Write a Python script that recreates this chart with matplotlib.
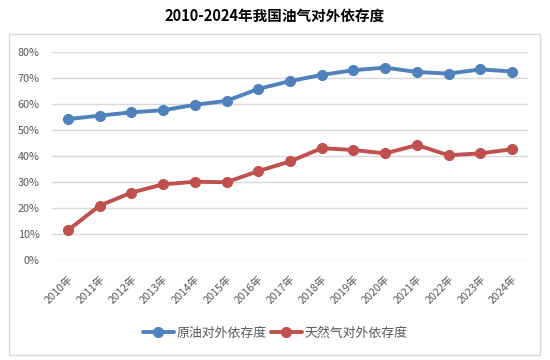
import matplotlib
matplotlib.use('Agg')
import matplotlib.pyplot as plt
from matplotlib.patches import Rectangle
from matplotlib.ticker import PercentFormatter

plt.rcParams['font.family'] = ['Noto Sans CJK SC', 'DejaVu Sans']

years = [f'{y}年' for y in range(2010, 2025)]
oil_dependence = [54.2, 55.5, 56.8, 57.6, 59.7, 61.2, 65.8, 68.8, 71.2, 73.0, 74.0, 72.3, 71.7, 73.3, 72.5]
gas_dependence = [11.4, 20.9, 25.9, 29.1, 30.1, 29.9, 34.2, 37.9, 43.0, 42.3, 41.0, 44.2, 40.3, 41.0, 42.6]
series_names = ['原油对外依存度', '天然气对外依存度']

BLUE = '#4F81BD'
RED = '#C0504D'
GRAY_TEXT = '#595959'

fig = plt.figure(figsize=(5.5, 3.6), dpi=100)
ax = fig.add_axes([52 / 550, 1 - 260 / 360, 476 / 550, 208 / 360])

# outer chart border
fig.patches.append(Rectangle((9 / 550, 1 - 355 / 360), 531 / 550, 321 / 360,
                             transform=fig.transFigure, fill=False,
                             edgecolor='#D9D9D9', linewidth=1))

x = range(len(years))
ax.plot(x, [v / 100 for v in oil_dependence], color=BLUE, lw=2.8,
        marker='o', ms=7, label=series_names[0], solid_capstyle='round')
ax.plot(x, [v / 100 for v in gas_dependence], color=RED, lw=2.8,
        marker='o', ms=7, label=series_names[1], solid_capstyle='round')

ax.set_xlim(-0.5, len(years) - 0.5)
ax.set_ylim(0, 0.8)
ax.set_yticks([i / 10 for i in range(9)])
ax.yaxis.set_major_formatter(PercentFormatter(1.0, decimals=0))
ax.grid(axis='y', color='#D9D9D9', linewidth=1)
ax.set_axisbelow(True)
for s in ax.spines.values():
    s.set_visible(False)

ax.set_xticks(list(x))
ax.set_xticklabels(years, rotation=45, ha='right', va='top',
                   rotation_mode='anchor', fontsize=7.8, color=GRAY_TEXT)
ax.tick_params(axis='x', length=0, pad=10)
ax.tick_params(axis='y', length=0, pad=9, labelsize=7.8, labelcolor=GRAY_TEXT)

fig.text(0.5, 1 - 17 / 360, '2010-2024年我国油气对外依存度', ha='center', va='center',
         fontsize=10.5, fontweight='bold', color='black')

fig.legend(loc='center', bbox_to_anchor=(0.5, 1 - 333 / 360), ncol=2, frameon=False,
           fontsize=9.3, handlelength=2.4, handletextpad=0.2, columnspacing=0.3,
           labelcolor=GRAY_TEXT)

fig.savefig('out.png', dpi=100)
